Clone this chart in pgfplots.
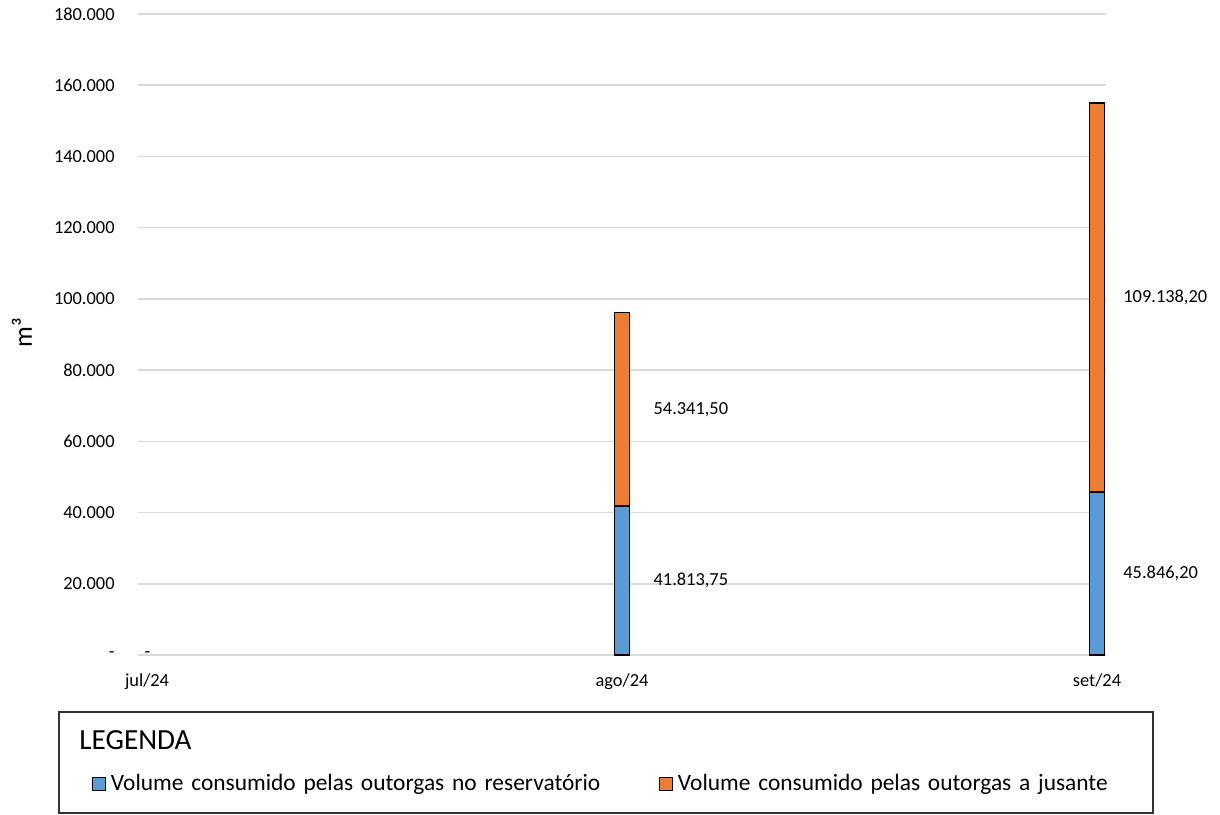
\documentclass[border=0pt]{standalone}
\usepackage{fontspec}
\setmainfont{Carlito}
\usepackage{pgfplots}
\usepackage{pgfplotstable}
\pgfplotsset{compat=1.18}
\definecolor{azul}{HTML}{5B9BD5}
\definecolor{laranja}{HTML}{ED7D31}
\definecolor{grade}{HTML}{D9D9D9}

% volumes mensais (m3); jul/24 = 0 nas duas series
\pgfplotstableread{
x res jus
1 41813.75 54341.50
2 45846.20 109138.20
}\volumes

% rotulos de dados (posicao no meio de cada segmento)
\pgfplotstableread{
x y lab dx
0 0 - -1.4
1 20906.875 41.813,75 15.6
1 68984.5 54.341,50 15.6
2 22923.1 45.846,20 13
2 100415.3 109.138,20 13
}\rotulos

\pgfplotsset{
  eixo/.style={scale only axis, width=484pt, height=320.5pt,
    at={(69pt,79.5pt)}, anchor=south west,
    xmin=-0.019, xmax=2.019, ymin=0, ymax=180000, enlargelimits=false},
}

\begin{document}
\begin{tikzpicture}
\path[use as bounding box] (0,0) rectangle (610pt,407pt);

\begin{axis}[eixo,
  ybar stacked, bar width=7.5pt,
  axis line style={draw=none},
  major tick length=0pt,
  scaled y ticks=false,
  ytick={0,20000,40000,60000,80000,100000,120000,140000,160000,180000},
  yticklabels={-,20.000,40.000,60.000,80.000,100.000,120.000,140.000,160.000,180.000},
  xtick={0,1,2}, xticklabels={jul/24,ago/24,set/24},
  ymajorgrids, grid style={grade, line width=0.8pt},
  tick label style={font=\fontsize{9.2}{11}\selectfont},
  yticklabel style={anchor=east, inner sep=0pt, xshift=-11.5pt},
  xticklabel style={anchor=base, inner sep=0pt, yshift=-15.6pt},
  ylabel={m³},
  ylabel style={at={(axis description cs:-0.1199,0.5023)}, anchor=center, font=\fontsize{13}{15}\selectfont},
  legend columns=2,
  legend cell align=left,
  legend style={at={(axis description cs:-0.0472,-0.2012)}, anchor=west,
    draw=none, inner sep=0pt, outer sep=0pt,
    font=\fontsize{11.7}{13}\selectfont,
    column sep=0.4pt,
    /tikz/every even column/.append style={column sep=4.2pt, text width=268pt, align=left}},
]
\addplot[fill=azul, draw=black, line width=0.9pt,
  legend image code/.code={\filldraw[fill=azul, draw=black, line width=0.5pt] (0.4pt,-3.2pt) rectangle (6.8pt,3.2pt);}]
  table[x=x, y=res] {\volumes};
\addplot[fill=laranja, draw=black, line width=0.9pt,
  legend image code/.code={\filldraw[fill=laranja, draw=black, line width=0.5pt] (0.4pt,-3.2pt) rectangle (6.8pt,3.2pt);}]
  table[x=x, y=jus] {\volumes};
\legend{Volume consumido pelas outorgas no reservatório, Volume consumido pelas outorgas a jusante}
\end{axis}

\begin{axis}[eixo, hide axis, clip=false]
\addplot[only marks, mark=*, mark size=0pt, mark options={draw=none, fill=none},
  nodes near coords, point meta=explicit symbolic,
  visualization depends on={\thisrow{dx} \as \dx},
  nodes near coords style={anchor=west, inner sep=0pt, xshift=\dx, font=\fontsize{9.2}{11}\selectfont}]
  table[x=x, y=y, meta=lab] {\rotulos};
\end{axis}

\draw[line width=0.9pt, black!80] (29.5pt,0.5pt) rectangle (576.5pt,51pt);
\node[anchor=west, inner sep=0pt, font=\fontsize{14.6}{17}\selectfont] at (39.5pt,37pt) {LEGENDA};
\end{tikzpicture}
\end{document}
